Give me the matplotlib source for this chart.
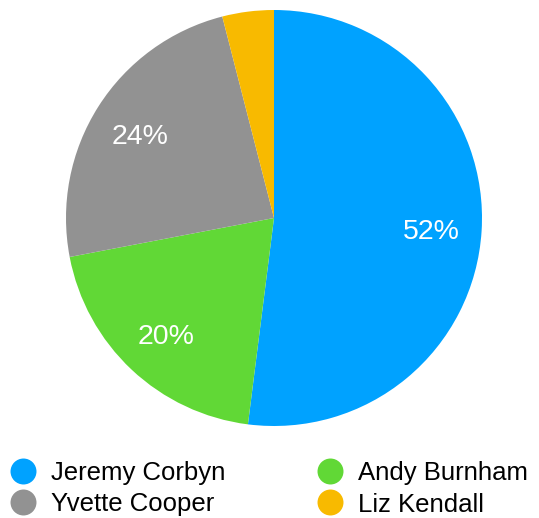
import matplotlib
matplotlib.use("Agg")
import matplotlib.pyplot as plt
import matplotlib.transforms as mtransforms
from matplotlib.lines import Line2D

plt.rcParams['font.family'] = ['Liberation Sans', 'DejaVu Sans']

candidates = ["Jeremy Corbyn", "Andy Burnham", "Yvette Cooper", "Liz Kendall"]
shares = [52, 20, 24, 4]
colors = ["#00A2FF", "#61D836", "#929292", "#F8BA00"]

W, H = 539, 518
fig = plt.figure(figsize=(W/100, H/100), dpi=100)
ax = fig.add_axes([66/W, (H-426)/H, 416/W, 416/H])

def fmt(p):
    return f"{p:.0f}%" if p > 6 else ""

wedges, texts, autotexts = ax.pie(
    shares, colors=colors, startangle=90, counterclock=False,
    autopct=fmt, pctdistance=0.76,
    textprops=dict(color="white", fontsize=20.5),
    wedgeprops=dict(linewidth=0))
ax.set_aspect('equal')
ax.set_xlim(-1, 1)
ax.set_ylim(-1, 1)
shift = mtransforms.ScaledTranslation(0, -4/100, fig.dpi_scale_trans)
for t in autotexts:
    t.set_transform(t.get_transform() + shift)

# legend: two columns, column-major order
legend_pos = {0: (23, 470.5), 2: (23, 502), 1: (330, 470.5), 3: (330, 502)}
for i, (px, py) in legend_pos.items():
    fig.add_artist(Line2D([px/W], [1 - py/H], marker='o', linestyle='none',
                          markersize=18.7, markerfacecolor=colors[i],
                          markeredgecolor='none', transform=fig.transFigure))
    fig.text((px + 28)/W, 1 - py/H, candidates[i], fontsize=18.5,
             va='center_baseline', ha='left', color='black')

fig.savefig("out.png", dpi=100)
